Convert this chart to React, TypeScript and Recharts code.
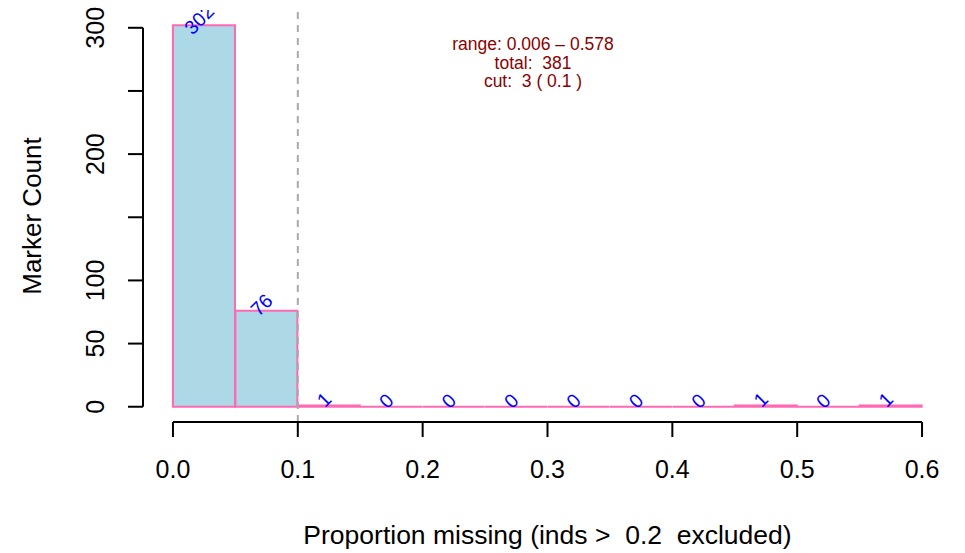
import { BarChart, Bar, XAxis, YAxis, ReferenceLine, LabelList, Customized } from 'recharts';

// histogram bins of proportion missing
const binLower = [0, 0.05, 0.1, 0.15, 0.2, 0.25, 0.3, 0.35, 0.4, 0.45, 0.5, 0.55];
const binUpper = [0.05, 0.1, 0.15, 0.2, 0.25, 0.3, 0.35, 0.4, 0.45, 0.5, 0.55, 0.6];
const counts = [302, 76, 1, 0, 0, 0, 0, 0, 0, 1, 0, 1];

const xTicks = [0, 0.1, 0.2, 0.3, 0.4, 0.5, 0.6];
const yTicks = [0, 50, 100, 150, 200, 250, 300];
const yTickLabels = [0, 50, 100, 200, 300];
const cutoff = 0.1;
const statsLines = ['range: 0.006 \u2013 0.578', 'total:  381', 'cut:  3 ( 0.1 )'];

const X_DOMAIN: [number, number] = [-0.024, 0.624];
const Y_DOMAIN: [number, number] = [-12.08, 314.08];

const FONT = '"Liberation Sans", Arial, Helvetica, sans-serif';
const FILL = '#ADD8E6';
const PINK = '#FF69B4';
const TOP = 10;

const data = binLower.map((lo, i) => ({ mid: (lo + binUpper[i]) / 2, count: counts[i] }));

function HistBar(props: any) {
  const { x, y, width, height } = props;
  if (!height) {
    return <line x1={x} x2={x + width} y1={y} y2={y} stroke={PINK} strokeWidth={2} />;
  }
  return <rect x={x} y={y} width={width} height={height} fill={FILL} stroke={PINK} strokeWidth={2} />;
}

function CountLabel(props: any) {
  const vb = props.viewBox ?? props;
  const { x, y, width } = vb;
  const cx = x + width / 2 - 5;
  const cy = y - 6;
  const id = `lblclip-${props.index}`;
  return (
    <g>
      <defs>
        <clipPath id={id}>
          <rect x={0} y={TOP} width={965} height={553} />
        </clipPath>
      </defs>
      <g clipPath={`url(#${id})`}>
        <text
          x={cx}
          y={cy}
          transform={`rotate(-45 ${cx} ${cy})`}
          textAnchor="middle"
          dominantBaseline="central"
          fill="#0000FF"
          fontSize={19.5}
          fontFamily={FONT}
        >
          {props.value}
        </text>
      </g>
    </g>
  );
}

function XTick(props: any) {
  const { x, y, payload } = props;
  return (
    <text x={x} y={y} textAnchor="middle" dominantBaseline="central" fontSize={25} fontFamily={FONT} fill="#000">
      {payload.value.toFixed(1)}
    </text>
  );
}

function YTick(props: any) {
  const { x, y, payload } = props;
  if (!yTickLabels.includes(payload.value)) return <g />;
  return (
    <text
      x={x}
      y={y}
      transform={`rotate(-90 ${x} ${y})`}
      textAnchor="middle"
      dominantBaseline="central"
      fontSize={25}
      fontFamily={FONT}
      fill="#000"
    >
      {payload.value}
    </text>
  );
}

function Stats() {
  return (
    <g>
      {statsLines.map((s, i) => (
        <text
          key={i}
          x={533}
          y={44 + i * 18.5}
          textAnchor="middle"
          dominantBaseline="central"
          fontSize={17.5}
          fontFamily={FONT}
          fill="#8B0000"
          style={{ whiteSpace: 'pre' }}
        >
          {s}
        </text>
      ))}
    </g>
  );
}

export default function App() {
  return (
    <div style={{ position: 'absolute', left: 0, top: 0, background: '#fff' }}>
      <BarChart
        width={965}
        height={553}
        data={data}
        margin={{ top: TOP, right: 13, bottom: 0, left: 0 }}
        barCategoryGap={0}
        barGap={0}
      >
        <XAxis
          dataKey="mid"
          type="number"
          domain={X_DOMAIN}
          ticks={xTicks}
          height={131}
          axisLine={false}
          tickSize={15}
          tickMargin={32}
          tickLine={{ stroke: '#000', strokeWidth: 2 }}
          tick={<XTick />}
          interval={0}
          label={(p: any) => {
            const vb = p.viewBox;
            return (
              <text
                x={vb.x + vb.width / 2}
                y={vb.y + 113}
                textAnchor="middle"
                dominantBaseline="central"
                fontSize={26.5}
                fontFamily={FONT}
                fill="#000"
                style={{ whiteSpace: 'pre' }}
              >
                {'Proportion missing (inds >  0.2  excluded)'}
              </text>
            );
          }}
        />
        <YAxis
          type="number"
          domain={Y_DOMAIN}
          ticks={yTicks}
          width={143}
          axisLine={false}
          tickSize={15}
          tickMargin={33}
          tickLine={{ stroke: '#000', strokeWidth: 2 }}
          tick={<YTick />}
          interval={0}
          label={(p: any) => {
            const vb = p.viewBox;
            const lx = vb.x + 32;
            const ly = vb.y + vb.height / 2;
            return (
              <text
                x={lx}
                y={ly}
                transform={`rotate(-90 ${lx} ${ly})`}
                textAnchor="middle"
                dominantBaseline="central"
                fontSize={26}
                fontFamily={FONT}
                fill="#000"
              >
                Marker Count
              </text>
            );
          }}
        />
        <Bar dataKey="count" shape={<HistBar />} isAnimationActive={false}>
          <LabelList dataKey="count" content={<CountLabel />} />
        </Bar>
        <ReferenceLine x={cutoff} stroke="#A9A9A9" strokeWidth={2} strokeDasharray="7 6" />
        <ReferenceLine
          segment={[{ x: xTicks[0], y: Y_DOMAIN[0] }, { x: xTicks[xTicks.length - 1], y: Y_DOMAIN[0] }]}
          stroke="#000"
          strokeWidth={2}
          ifOverflow="visible"
        />
        <ReferenceLine
          segment={[{ x: X_DOMAIN[0], y: yTicks[0] }, { x: X_DOMAIN[0], y: yTicks[yTicks.length - 1] }]}
          stroke="#000"
          strokeWidth={2}
          ifOverflow="visible"
        />
        <Customized component={<Stats />} />
      </BarChart>
    </div>
  );
}
